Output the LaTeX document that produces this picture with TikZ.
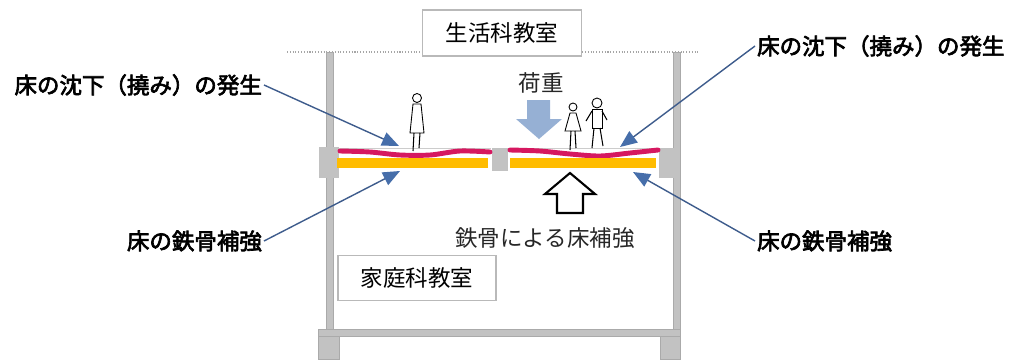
\documentclass[tikz,border=0pt]{standalone}
\usepackage{fontspec}
\newfontfamily\jp{Noto Sans CJK JP}
\newfontfamily\jpbold[FakeBold=3]{Noto Sans CJK JP}
\usetikzlibrary{
	arrows.meta,
	positioning
}
\definecolor{wallgray}{RGB}{194,194,194}
\definecolor{walledge}{RGB}{170,170,170}
\definecolor{sagred}{RGB}{214,24,96}
\definecolor{steelbar}{RGB}{255,188,0}
\definecolor{leaderblue}{RGB}{62,92,140}
\definecolor{tipblue}{RGB}{70,110,170}
\definecolor{loadblue}{RGB}{150,176,212}

\begin{document}
\begin{tikzpicture}[x=0.02cm, y=-0.02cm,
	wall/.style={fill=wallgray, draw=walledge, line width=0.3pt},
	roombox/.style={draw=gray!55, fill=white, line width=0.6pt, minimum width=3.18cm, minimum height=0.92cm, font=\jp\fontsize{12.8}{14}\selectfont},
	caption/.style={font=\jp\fontsize{12.8}{14}\selectfont, text=black!85, inner sep=1pt},
	note/.style={font=\jpbold\fontsize{12.8}{14}\selectfont, inner sep=1pt},
	leader/.style={leaderblue, line width=0.8pt, -{Triangle[length=3.4mm, width=2.8mm, color=tipblue]}},
	figure/.style={draw=black, fill=white, line width=0.5pt}
]
		\useasboundingbox (0,0) rectangle (1018,359);
		% storey line and walls
		\draw[gray!70, densely dotted, line width=0.6pt] (287,52) -- (698,52);
		\draw[wall] (326,52) rectangle (333,330);
		\draw[wall] (673,52) rectangle (680,330);
		\draw[wall] (318,329) rectangle (680,336);
		\draw[wall] (318,336) rectangle (339,359);
		\draw[wall] (660,336) rectangle (680,359);
		\fill[wallgray] (319,147) rectangle (339,178);
		\fill[wallgray] (659,148) rectangle (680,178);
		\fill[wallgray] (492,148) rectangle (508,171);
		% floor: sagging surface and steel bars
		\draw[gray!40, line width=0.4pt] (339,148) -- (491,148);
		\draw[gray!40, line width=0.4pt] (509,148) -- (659,148);
		\draw[sagred, line width=2.8pt, line cap=round] plot[smooth] coordinates {(340,151) (370,152) (400,155) (430,155) (460,151) (490,152)};
		\draw[sagred, line width=2.8pt, line cap=round] plot[smooth] coordinates {(510,150) (540,151) (570,154) (600,156) (630,153) (658,150)};
		\fill[steelbar] (337,158) rectangle (488,168);
		\fill[steelbar] (510,158) rectangle (656,168);
		% people on the floor
		\draw[figure] (417,98) circle[radius=0.09cm];
		\draw[figure] (413,104) -- (421,104) -- (424,133) -- (410,133) -- cycle;
		\draw[line width=0.6pt] (414,133) -- (413,151) (420,133) -- (419,148);
		\draw[figure] (573,107) circle[radius=0.08cm];
		\draw[figure] (570,113) -- (576,113) -- (581,131) -- (565,131) -- cycle;
		\draw[line width=0.6pt] (571,131) -- (570,150) (575,131) -- (576,148);
		\draw[figure] (597,103) circle[radius=0.1cm];
		\draw[figure] (592,109) -- (602,109) -- (602,128) -- (592,128) -- cycle;
		\draw[line width=0.6pt] (592,111) -- (586,121) (602,111) -- (607,120);
		\draw[line width=0.6pt] (594,128) -- (592,148) (600,128) -- (603,146);
		% load and reinforcement arrows
		\fill[loadblue] (527,100) -- (550,100) -- (550,119) -- (562,119) -- (539,139) -- (516,119) -- (527,119) -- cycle;
		\draw[line width=1.2pt, fill=white] (570,173) -- (595,194) -- (583,194) -- (583,213) -- (557,213) -- (557,194) -- (545,194) -- cycle;
		% texts
		\node[roombox] (upper) at (502,33) {生活科教室};
		\node[roombox, minimum width=3.16cm, minimum height=0.9cm] (lower) at (417,278) {家庭科教室};
		\node[caption] (load) at (541,83) {荷重};
		\node[caption] (steel) at (545,238) {鉄骨による床補強};
		\node[note, anchor=east] (sagL) at (264,85) {床の沈下（撓み）の発生};
		\node[note, anchor=east] (barL) at (264,241) {床の鉄骨補強};
		\node[note, anchor=west] (sagR) at (755,46) {床の沈下（撓み）の発生};
		\node[note, anchor=west] (barR) at (755,241) {床の鉄骨補強};
		% leader lines
		\coordinate (tipSagL) at (399,146);
		\coordinate (tipBarL) at (400,171);
		\coordinate (tipSagR) at (620,147);
		\coordinate (tipBarR) at (633,172);
		\draw[leader] (sagL.east) -- (tipSagL);
		\draw[leader] (barL.east) -- (tipBarL);
		\draw[leader] (sagR.west) -- (tipSagR);
		\draw[leader] (barR.west) -- (tipBarR);
\end{tikzpicture}
\end{document}
